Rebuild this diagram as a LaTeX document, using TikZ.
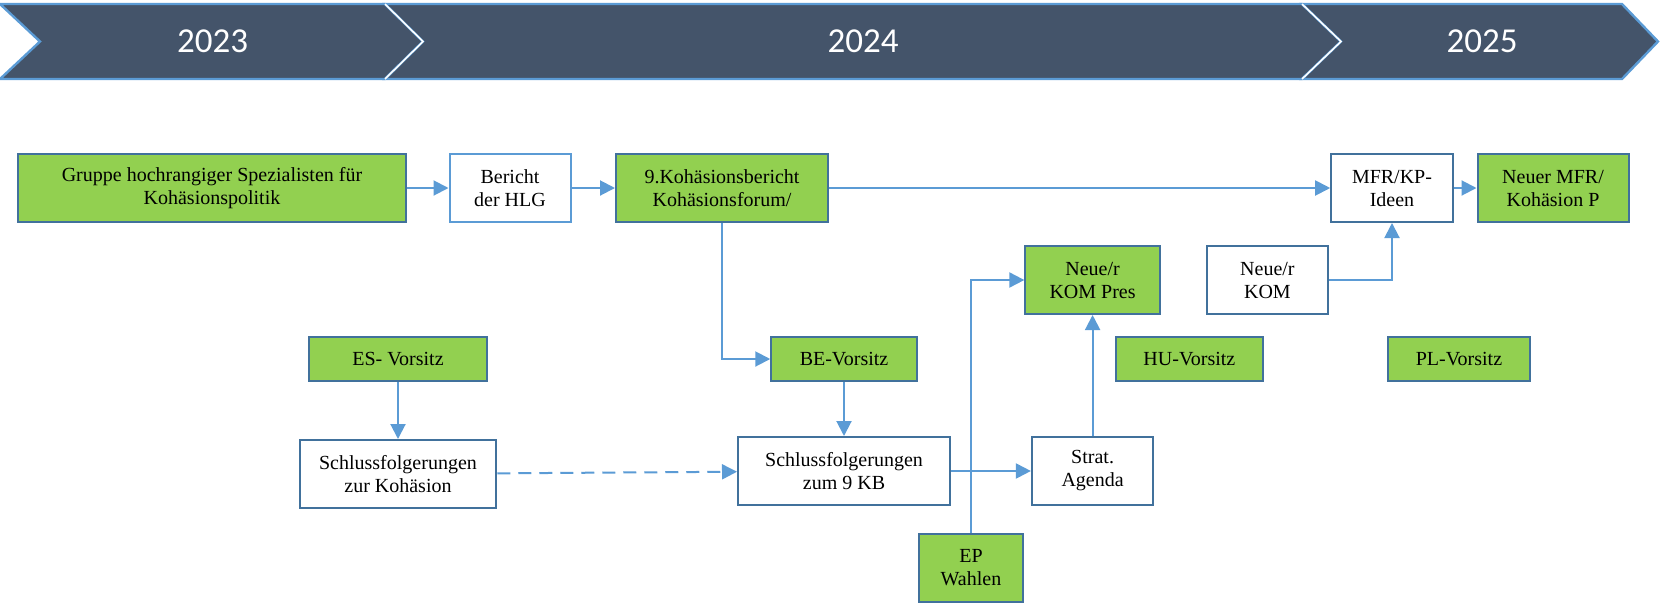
\documentclass[tikz,border=0pt]{standalone}
\usepackage{fontspec}
\setmainfont{Liberation Serif}
\newfontfamily\yearfont{Carlito}
\usetikzlibrary{arrows.meta}

\definecolor{bannerfill}{HTML}{44546A}
\definecolor{bannerline}{HTML}{5B9BD5}
\definecolor{boxgreen}{HTML}{92D050}
\definecolor{boxline}{HTML}{41719C}
\definecolor{arrowblue}{HTML}{5B9BD5}

\begin{document}
\begin{tikzpicture}[
        x = 0.5pt, y = -0.5pt, % one unit = one pixel of the sketch
        ->, % Arrow style
        > = {Triangle[length=7.5pt, width=7.5pt]}, % arrow head style
        draw = arrowblue, % connector colour
        line width = 1pt, % line style
        font = \fontsize{10}{11.5}\selectfont
      ]

      \tikzstyle{state}=[rectangle,draw=boxline,fill=white,align=center,inner sep=1pt,minimum height=34pt]
      \tikzstyle{milestone}=[state,fill=boxgreen]
      \tikzstyle{vorsitz}=[milestone,minimum height=21.9pt]
      \tikzstyle{year}=[text=white,font=\yearfont\fontsize{17.5}{20}\selectfont]

      \useasboundingbox (0,0) rectangle (1660,606);

      % timeline banner
      \foreach \xl/\xn/\xr/\xt in {0/40/385/423, 385/423/1302/1341, 1302/1341/1622/1658}
        \filldraw[-, fill=bannerfill, draw=bannerline, line width=1.2pt]
          (\xl,4) -- (\xr,4) -- (\xt,41.5) -- (\xr,79) -- (\xl,79) -- (\xn,41.5) -- cycle;
      \draw[-, white, line width=0.8pt] (385,4) -- (423,41.5) -- (385,79);
      \draw[-, white, line width=0.8pt] (1302,4) -- (1341,41.5) -- (1302,79);

      \node[year] (y23) at (212.5,41.5) {2023};
      \node[year] (y24) at (863,41.5) {2024};
      \node[year] (y25) at (1482,41.5) {2025};

      % top row
      \node[milestone, minimum width=193.75pt] (gruppe) at (212,188) {Gruppe hochrangiger Spezialisten für\\Kohäsionspolitik};
      \node[state, draw=arrowblue, minimum width=60.5pt] (bericht) [right of=gruppe, node distance=149pt] {Bericht\\der HLG};
      \node[milestone, minimum width=106pt] (koh) [right of=bericht, node distance=106pt] {9.Kohäsionsbericht\\Kohäsionsforum/};
      \node[state, minimum width=60.8pt] (mfr) [right of=koh, node distance=335pt] {MFR/KP-\\Ideen};
      \node[milestone, minimum width=75.5pt] (neumfr) [right of=mfr, node distance=80.5pt] {Neuer MFR/\\Kohäsion P};

      % presidencies
      \node[vorsitz, minimum width=88.8pt] (es) at (398,359) {ES- Vorsitz};
      \node[vorsitz, minimum width=72.75pt] (be) [right of=es, node distance=223pt] {BE-Vorsitz};
      \node[vorsitz, minimum width=73.5pt] (hu) [right of=be, node distance=172.7pt] {HU-Vorsitz};
      \node[vorsitz, minimum width=70.8pt] (pl) [right of=hu, node distance=134.8pt] {PL-Vorsitz};

      % lower boxes
      \node[state, minimum width=98.25pt] (schluss1) [below of=es, node distance=57.5pt] {Schlussfolgerungen\\zur Kohäsion};
      \node[state, minimum width=106pt] (schluss2) [below of=be, node distance=56pt] {Schlussfolgerungen\\zum 9 KB};
      \node[state, minimum width=60.7pt] (strat) [right of=schluss2, node distance=124.3pt] {Strat.\\Agenda};
      \node[milestone, minimum width=67.25pt] (kompres) [above of=strat, node distance=95.5pt] {Neue/r\\KOM Pres};
      \node[state, minimum width=60.7pt] (kom) [right of=kompres, node distance=87.4pt] {Neue/r\\KOM};
      \node[milestone, minimum width=51.8pt] (ep) at (971,568) {EP\\Wahlen};

      \path (gruppe) edge (bericht);
      \path (bericht) edge (koh);
      \path (koh) edge (mfr);
      \path (mfr) edge (neumfr);
      \draw (koh) |- (be);
      \path (es) edge (schluss1);
      \path (be) edge (schluss2);
      \path (schluss1) edge [dash pattern=on 6.5pt off 4pt] (schluss2);
      \path (schluss2) edge (strat);
      \path (strat) edge (kompres);
      \draw (ep) |- (kompres);
      \draw (kom) -| (mfr);

    \end{tikzpicture}
\end{document}
